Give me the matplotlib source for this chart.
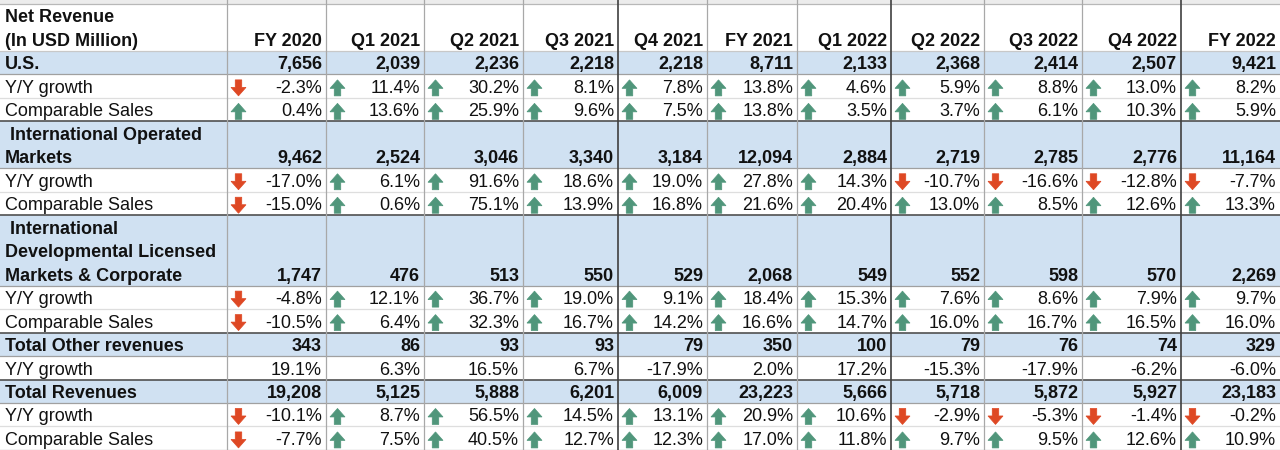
import matplotlib
matplotlib.use('Agg')
import matplotlib.pyplot as plt
from matplotlib.patches import Rectangle, FancyArrow

plt.rcParams['font.family'] = ['Liberation Sans', 'DejaVu Sans']

# columnas de la tabla
columns = ['FY 2020', 'Q1 2021', 'Q2 2021', 'Q3 2021', 'Q4 2021', 'FY 2021',
           'Q1 2022', 'Q2 2022', 'Q3 2022', 'Q4 2022', 'FY 2022']

# datos (USD millones y %)
us_rev = [7656, 2039, 2236, 2218, 2218, 8711, 2133, 2368, 2414, 2507, 9421]
us_yy = [-2.3, 11.4, 30.2, 8.1, 7.8, 13.8, 4.6, 5.9, 8.8, 13.0, 8.2]
us_comp = [0.4, 13.6, 25.9, 9.6, 7.5, 13.8, 3.5, 3.7, 6.1, 10.3, 5.9]
iom_rev = [9462, 2524, 3046, 3340, 3184, 12094, 2884, 2719, 2785, 2776, 11164]
iom_yy = [-17.0, 6.1, 91.6, 18.6, 19.0, 27.8, 14.3, -10.7, -16.6, -12.8, -7.7]
iom_comp = [-15.0, 0.6, 75.1, 13.9, 16.8, 21.6, 20.4, 13.0, 8.5, 12.6, 13.3]
idl_rev = [1747, 476, 513, 550, 529, 2068, 549, 552, 598, 570, 2269]
idl_yy = [-4.8, 12.1, 36.7, 19.0, 9.1, 18.4, 15.3, 7.6, 8.6, 7.9, 9.7]
idl_comp = [-10.5, 6.4, 32.3, 16.7, 14.2, 16.6, 14.7, 16.0, 16.7, 16.5, 16.0]
other_rev = [343, 86, 93, 93, 79, 350, 100, 79, 76, 74, 329]
other_yy = [19.1, 6.3, 16.5, 6.7, -17.9, 2.0, 17.2, -15.3, -17.9, -6.2, -6.0]
total_rev = [19208, 5125, 5888, 6201, 6009, 23223, 5666, 5718, 5872, 5927, 23183]
total_yy = [-10.1, 8.7, 56.5, 14.5, 13.1, 20.9, 10.6, -2.9, -5.3, -1.4, -0.2]
total_comp = [-7.7, 7.5, 40.5, 12.7, 12.3, 17.0, 11.8, 9.7, 9.5, 12.6, 10.9]

# filas: (tipo, etiqueta, valores, lineas)
rows = [
    ('head', 'U.S.', us_rev, 1),
    ('pct', 'Y/Y growth', us_yy, 1),
    ('pct', 'Comparable Sales', us_comp, 1),
    ('head', ' International Operated\nMarkets', iom_rev, 2),
    ('pct', 'Y/Y growth', iom_yy, 1),
    ('pct', 'Comparable Sales', iom_comp, 1),
    ('head', ' International\nDevelopmental Licensed\nMarkets & Corporate', idl_rev, 3),
    ('pct', 'Y/Y growth', idl_yy, 1),
    ('pct', 'Comparable Sales', idl_comp, 1),
    ('head', 'Total Other revenues', other_rev, 1),
    ('plain', 'Y/Y growth', other_yy, 1),
    ('head', 'Total Revenues', total_rev, 1),
    ('pct', 'Y/Y growth', total_yy, 1),
    ('pct', 'Comparable Sales', total_comp, 1),
]

# geometria en pixeles
col_edges = [0, 227, 326, 424, 523, 618, 707, 797, 891, 984, 1082, 1181, 1280]
dark_cols = [618, 891, 1181]
line_h = 23.47
top = 4
fs = 13
blue = '#d0e1f2'
green = '#50967b'
red = '#de4824'

fig = plt.figure(figsize=(12.8, 4.5), dpi=100)
ax = fig.add_axes([0, 0, 1, 1])
ax.set_xlim(0, 1280)
ax.set_ylim(450, 0)
ax.axis('off')


def cell_text(x, y_bottom, text, ha, bold):
    for i, line in enumerate(text.split('\n')[::-1]):
        ax.text(x, y_bottom - 5 - i * line_h, line, ha=ha, va='baseline',
                fontsize=fs, fontweight='bold' if bold else 'normal', color='#111111')


# encabezado
ax.add_patch(Rectangle((0, 0), 1280, top, color='#ececec', lw=0, zorder=0))
y = top
h = 2 * line_h
cell_text(5, y + h, 'Net Revenue\n(In USD Million)', 'left', True)
for j, c in enumerate(columns):
    cell_text(col_edges[j + 2] - 4, y + h, c, 'right', True)
hlines = [(top, '#b8b8b8', 0.9), (y + h, '#c8c8c8', 0.9)]
y += h

for k, (kind, label, vals, n) in enumerate(rows):
    h = n * line_h
    if kind == 'head':
        ax.add_patch(Rectangle((0, y), 1280, h, color=blue, lw=0, zorder=0))
    cell_text(5, y + h, label, 'left', kind == 'head')
    for j, v in enumerate(vals):
        right = col_edges[j + 2]
        if kind == 'head':
            s = f'{v:,}'
        else:
            s = f'{v:.1f}%'
        cell_text(right - 4, y + h, s, 'right', kind == 'head')
        if kind == 'pct':
            xc = col_edges[j + 1] + 11.5
            if v >= 0:
                ax.add_patch(FancyArrow(xc, y + h - 2, 0, -16, width=6.5, head_width=15,
                                        head_length=8.5, length_includes_head=True,
                                        color=green, lw=0.5, zorder=2))
            else:
                ax.add_patch(FancyArrow(xc, y + h - 18, 0, 16, width=6.5, head_width=15,
                                        head_length=8.5, length_includes_head=True,
                                        color=red, lw=0.5, zorder=2))
    # lineas horizontales
    nxt = rows[k + 1][0] if k + 1 < len(rows) else None
    if nxt == 'head':
        hlines.append((y + h, '#505050', 1.2))
    elif kind == 'head' or nxt is None:
        hlines.append((y + h, '#a0a0a0', 0.9))
    else:
        hlines.append((y + h, '#dedede', 0.9))
    y += h

for yy, col, lw in hlines:
    ax.plot([0, 1280], [yy, yy], color=col, lw=lw, zorder=3)

for xe in col_edges[1:-1]:
    if xe in dark_cols:
        ax.plot([xe, xe], [0, 450], color='#404040', lw=1.2, zorder=3)
    else:
        ax.plot([xe, xe], [0, 450], color='#a8a8a8', lw=0.9, zorder=3)

fig.savefig('out.png', dpi=100)
